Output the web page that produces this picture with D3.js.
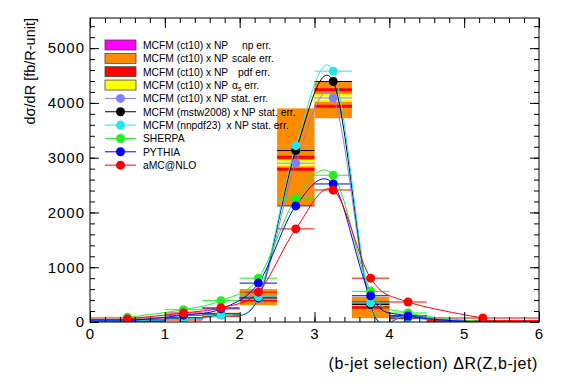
<!DOCTYPE html>
<html><head><meta charset="utf-8">
<script src="https://cdn.jsdelivr.net/npm/d3@7"></script>
<style>
html,body{margin:0;padding:0;background:#fff;}
text{font-family:"Liberation Sans",Arial,Helvetica,sans-serif;}
</style></head>
<body><svg id="c" width="567" height="384"></svg>
<script>
// ---- data ----
const binEdges = [0, 1, 1.5, 2, 2.5, 3, 3.5, 4, 4.5, 6];
const xCenters = [0.5, 1.25, 1.75, 2.25, 2.75, 3.25, 3.75, 4.25, 5.25];
const mcfmCt10   = [25, 60, 130, 420, 2900, 4090, 310, 90, 5];
const mcfmMstw   = [25, 60, 135, 440, 3130, 4390, 320, 92, 5];
const mcfmNnpdf  = [25, 55, 130, 460, 3220, 4580, 350, 95, 5];
const sherpa     = [85, 225, 390, 800, 2250, 2680, 560, 165, 10];
const pythia     = [20, 125, 240, 710, 2120, 2520, 480, 110, 0];
const amcnlo     = [55, 165, 260, 545, 1700, 2410, 800, 365, 73];
// MCFM (ct10) x NP uncertainty bands: upward / downward
const scaleUp    = [30, 30, 40, 180, 1000, 290, 150, 40, 5];
const scaleDown  = [15, 20, 30, 110, 770, 370, 240, 40, 5];
const pdfErr     = [3, 4, 6, 20, 110, 150, 40, 8, 1];
const alphaErr   = [2, 2, 3, 10, 60, 70, 20, 4, 1];
const statErr    = [1, 1, 2, 5, 20, 25, 8, 3, 1];
const yTicks = [0, 1000, 2000, 3000, 4000, 5000];
const xTicks = [0, 1, 2, 3, 4, 5, 6];

const seriesList = [
  {name: "MCFM (ct10) x NP stat. err.", values: mcfmCt10, color: "#8080ff"},
  {name: "MCFM (mstw2008) x NP stat. err.", values: mcfmMstw, color: "#000000"},
  {name: "MCFM (nnpdf23)  x NP stat. err.", values: mcfmNnpdf, color: "#22e8e8"},
  {name: "SHERPA", values: sherpa, color: "#22ee22"},
  {name: "PYTHIA", values: pythia, color: "#0000ff"},
  {name: "aMC@NLO", values: amcnlo, color: "#ff0000"}
];

// ---- layout ----
const svg = d3.select("#c");
const L = 90, R = 539, T = 18, B = 322;
const x = d3.scaleLinear().domain([0, 6]).range([L, R]);
const y = d3.scaleLinear().domain([0, 5550]).range([B, T]);

svg.append("defs").append("clipPath").attr("id", "clip")
  .append("rect").attr("x", L).attr("y", T).attr("width", R - L).attr("height", B - T);
const plot = svg.append("g").attr("clip-path", "url(#clip)");

const bins = xCenters.map((c, i) => ({i, x0: binEdges[i], x1: binEdges[i + 1], c: mcfmCt10[i]}));

// scale band (orange)
plot.selectAll(".scale").data(bins).join("rect")
  .attr("x", d => x(d.x0)).attr("width", d => x(d.x1) - x(d.x0))
  .attr("y", d => y(d.c + scaleUp[d.i]))
  .attr("height", d => y(d.c - scaleDown[d.i]) - y(d.c + scaleUp[d.i]))
  .attr("fill", "#ff8c00");
// pdf band edges (red)
[1, -1].forEach(s => {
  plot.selectAll(".pdf" + s).data(bins).join("line")
    .attr("x1", d => x(d.x0)).attr("x2", d => x(d.x1))
    .attr("y1", d => y(d.c + s * pdfErr[d.i])).attr("y2", d => y(d.c + s * pdfErr[d.i]))
    .attr("stroke", "#ff0000").attr("stroke-width", 3);
});
// alpha_s band (yellow)
plot.selectAll(".alpha").data(bins).join("rect")
  .attr("x", d => x(d.x0)).attr("width", d => x(d.x1) - x(d.x0))
  .attr("y", d => y(d.c + alphaErr[d.i]))
  .attr("height", d => Math.max(1, y(d.c - alphaErr[d.i]) - y(d.c + alphaErr[d.i])))
  .attr("fill", "#ffff00");
// stat band (white)
plot.selectAll(".stat").data(bins).join("rect")
  .attr("x", d => x(d.x0)).attr("width", d => x(d.x1) - x(d.x0))
  .attr("y", d => y(d.c + statErr[d.i]))
  .attr("height", d => Math.max(0.5, y(d.c - statErr[d.i]) - y(d.c + statErr[d.i])))
  .attr("fill", "#ffffff").attr("opacity", 0.8);

// horizontal error bars
seriesList.forEach(s => {
  plot.selectAll(null).data(bins).join("line")
    .attr("x1", d => x(d.x0)).attr("x2", d => x(d.x1))
    .attr("y1", d => y(s.values[d.i])).attr("y2", d => y(s.values[d.i]))
    .attr("stroke", s.color).attr("stroke-width", 1);
});
// smooth curves
const line = d3.line().x(d => x(d[0])).y(d => y(d[1])).curve(d3.curveCatmullRom.alpha(0));
seriesList.forEach(s => {
  plot.append("path").datum(xCenters.map((c, i) => [c, s.values[i]]))
    .attr("d", line).attr("fill", "none").attr("stroke", s.color).attr("stroke-width", 1);
});
// markers
seriesList.forEach(s => {
  plot.selectAll(null).data(xCenters.map((c, i) => [c, s.values[i]])).join("circle")
    .attr("cx", d => x(d[0])).attr("cy", d => y(d[1])).attr("r", 4.5)
    .attr("fill", s.color);
});

// ---- axes ----
const tickFont = g => g.selectAll("text").style("font-size", "15px").style("letter-spacing", "1px")
  .attr("fill", "#000").style("font-family", '"Liberation Sans",Arial,sans-serif');
const yMinor = d3.range(0, 5550, 200);
const xMinor = d3.range(0, 6.001, 0.2);

svg.append("g").attr("transform", `translate(${L},0)`)
  .call(d3.axisLeft(y).tickValues(yMinor).tickSize(-5).tickFormat(""))
  .call(g => g.select(".domain").remove());
svg.append("g").attr("transform", `translate(${L},0)`)
  .call(d3.axisLeft(y).tickValues(yTicks).tickSize(-9).tickPadding(5).tickFormat(d3.format("d")))
  .call(g => g.select(".domain").remove()).call(tickFont);
svg.append("g").attr("transform", `translate(${R},0)`)
  .call(d3.axisRight(y).tickValues(yMinor).tickSize(-5).tickFormat(""))
  .call(g => g.select(".domain").remove());
svg.append("g").attr("transform", `translate(${R},0)`)
  .call(d3.axisRight(y).tickValues(yTicks).tickSize(-9).tickFormat(""))
  .call(g => g.select(".domain").remove());

svg.append("g").attr("transform", `translate(0,${B})`)
  .call(d3.axisBottom(x).tickValues(xMinor).tickSize(-5).tickFormat(""))
  .call(g => g.select(".domain").remove());
svg.append("g").attr("transform", `translate(0,${B})`)
  .call(d3.axisBottom(x).tickValues(xTicks).tickSize(-10).tickPadding(6).tickFormat(d3.format("d")))
  .call(g => g.select(".domain").remove()).call(tickFont);
svg.append("g").attr("transform", `translate(0,${T})`)
  .call(d3.axisTop(x).tickValues(xMinor).tickSize(-5).tickFormat(""))
  .call(g => g.select(".domain").remove());
svg.append("g").attr("transform", `translate(0,${T})`)
  .call(d3.axisTop(x).tickValues(xTicks).tickSize(-10).tickFormat(""))
  .call(g => g.select(".domain").remove());

svg.append("rect").attr("x", L).attr("y", T).attr("width", R - L).attr("height", B - T)
  .attr("fill", "none").attr("stroke", "#000").attr("stroke-width", 1);

// titles
svg.append("text").attr("transform", "translate(35,18) rotate(-90)")
  .attr("text-anchor", "end").style("font-size", "14.5px").text("dσ/dR [fb/R-unit]");
svg.append("text").attr("x", 538).attr("y", 369).attr("text-anchor", "end")
  .style("font-size", "16px").style("letter-spacing", "0.6px").text("(b-jet selection) ΔR(Z,b-jet)");

// ---- legend ----
const legendBoxes = [
  {fill: "#ff00ff", head: "MCFM (ct10) x NP", tail: "np err.", tx: 242},
  {fill: "#ff8c00", head: "MCFM (ct10) x NP", tail: "scale err.", tx: 232},
  {fill: "#ff0000", head: "MCFM (ct10) x NP", tail: "pdf err.", tx: 238},
  {fill: "#ffff00", head: "MCFM (ct10) x NP", tail: "alpha", tx: 232}
];
const leg = svg.append("g");
const rowY = i => 45 + i * 13.35;
legendBoxes.forEach((b, i) => {
  leg.append("rect").attr("x", 105).attr("y", rowY(i) - 5).attr("width", 31).attr("height", 10)
    .attr("fill", b.fill).attr("stroke", "#444").attr("stroke-width", 0.8);
  const t = leg.append("text").attr("x", 143).attr("y", rowY(i) + 3.8).style("font-size", "10.3px");
  t.append("tspan").text(b.head);
  if (b.tail === "alpha") {
    t.append("tspan").attr("x", b.tx).text("α");
    t.append("tspan").attr("dy", 2.5).style("font-size", "7px").text("s");
    t.append("tspan").attr("dy", -2.5).text(" err.");
  } else {
    t.append("tspan").attr("x", b.tx).text(b.tail);
  }
});
seriesList.forEach((s, j) => {
  const i = j + 4;
  leg.append("line").attr("x1", 105).attr("x2", 136).attr("y1", rowY(i)).attr("y2", rowY(i))
    .attr("stroke", s.color).attr("stroke-width", 1);
  leg.append("circle").attr("cx", 120.5).attr("cy", rowY(i)).attr("r", 4.5).attr("fill", s.color);
  leg.append("text").attr("x", 143).attr("y", rowY(i) + 3.8).style("font-size", "10.3px")
    .style("white-space", "pre").text(s.name);
});
</script></body></html>
